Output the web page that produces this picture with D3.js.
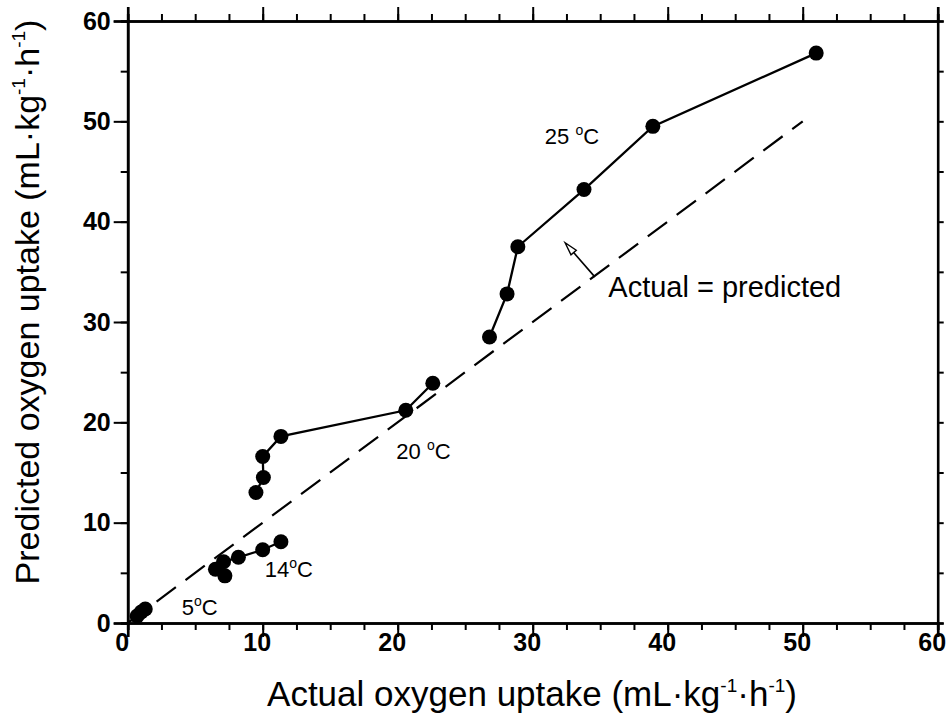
<!DOCTYPE html>
<html>
<head>
<meta charset="utf-8">
<script src="https://cdn.jsdelivr.net/npm/d3@7"></script>
<style>
  body { margin: 0; background: #fff; }
  svg { display: block; font-family: Arial, "Liberation Sans", Helvetica, sans-serif; }
</style>
</head>
<body>
<svg width="948" height="725"></svg>
<script>
// dados (actual, predicted)
const grupo5C  = [[0.7, 0.7], [1.0, 1.1], [1.3, 1.4]];
const grupo14C = [[7.2, 4.7], [6.5, 5.35], [7.1, 6.1], [8.2, 6.55], [10.0, 7.3], [11.35, 8.1]];
const grupo20C = [[9.5, 13.0], [10.05, 14.5], [10.0, 16.6], [11.35, 18.6], [20.6, 21.2], [22.6, 23.9]];
const grupo25C = [[26.8, 28.5], [28.1, 32.8], [28.9, 37.5], [33.8, 43.2], [38.9, 49.5], [51.0, 56.8]];
const grupos = [grupo5C, grupo14C, grupo20C, grupo25C];

const linhaIgual = [[0, 0], [50, 50]];

const ticksMaiores = [0, 10, 20, 30, 40, 50, 60];
const ticksMenoresX = d3.range(0, 60.1, 2.5);
const ticksMenoresY = d3.range(0, 60.1, 5);

// rótulos de temperatura
const rotulos = [
    {x: 30.9, y: 47.7, t: "25", sep: " "},
    {x: 19.9, y: 16.35, t: "20", sep: " "},
    {x: 10.15, y: 4.6, t: "14", sep: ""},
    {x: 4.0, y: 0.8, t: "5", sep: ""}
];
const seta = {x1: 34.6, y1: 34.5, x2: 32.4, y2: 37.9};
const textoSeta = {x: 35.6, y: 32.5, t: "Actual = predicted"};

const svg = d3.select("svg");

const x = d3.scaleLinear().domain([0, 60]).range([127.7, 937.7]);
const y = d3.scaleLinear().domain([0, 60]).range([623, 21]);

// eixos - menores primeiro, depois maiores
const gx = svg.append("g").attr("transform", `translate(0,${y(0)})`);
gx.call(d3.axisBottom(x).tickValues(ticksMenoresX).tickSize(7).tickFormat(""));
gx.append("g").call(d3.axisBottom(x).tickValues(ticksMaiores).tickSize(14).tickPadding(-4).tickFormat(d3.format("d")))
    .selectAll("text").attr("dx", -6);

const gTopo = svg.append("g").attr("transform", `translate(0,${y(60)})`);
gTopo.call(d3.axisTop(x).tickValues(ticksMenoresX).tickSize(7).tickFormat(""));
gTopo.append("g").call(d3.axisTop(x).tickValues(ticksMaiores).tickSize(14).tickFormat(""));

const gy = svg.append("g").attr("transform", `translate(${x(0)},0)`);
gy.call(d3.axisLeft(y).tickValues(ticksMenoresY).tickSize(7).tickFormat(""));
gy.append("g").call(d3.axisLeft(y).tickValues(ticksMaiores).tickSize(14).tickPadding(3).tickFormat(d3.format("d")));

const gDir = svg.append("g").attr("transform", `translate(${x(60)},0)`);
gDir.call(d3.axisRight(y).tickValues(ticksMenoresY).tickSize(6).tickFormat(""));

svg.selectAll(".domain").attr("stroke", "#000").attr("stroke-width", 2.6);
svg.selectAll(".tick line").attr("stroke", "#000").attr("stroke-width", 2);
svg.selectAll(".tick text")
    .attr("fill", "#000")
    .style("font-size", "25px")
    .style("font-weight", "bold")
    .style("font-family", "Arial, 'Liberation Sans', sans-serif");

// linha tracejada actual = predicted
svg.append("path")
    .attr("d", d3.line().x(d => x(d[0])).y(d => y(d[1]))(linhaIgual))
    .attr("fill", "none")
    .attr("stroke", "#000")
    .attr("stroke-width", 2.2)
    .attr("stroke-dasharray", "24,12");

// séries
const linha = d3.line().x(d => x(d[0])).y(d => y(d[1]));
svg.selectAll(".serie")
    .data(grupos)
    .enter()
    .append("path")
    .attr("class", "serie")
    .attr("d", linha)
    .attr("fill", "none")
    .attr("stroke", "#000")
    .attr("stroke-width", 2.3);

svg.selectAll(".ponto")
    .data(grupos.flat())
    .enter()
    .append("circle")
    .attr("class", "ponto")
    .attr("cx", d => x(d[0]))
    .attr("cy", d => y(d[1]))
    .attr("r", 7.5)
    .attr("fill", "#000");

// rótulos de temperatura
rotulos.forEach(r => {
    const t = svg.append("text")
        .attr("x", x(r.x))
        .attr("y", y(r.y))
        .style("font-size", "22px")
        .attr("fill", "#000");
    t.append("tspan").text(r.t + r.sep);
    t.append("tspan").attr("dy", -9).style("font-size", "14px").text("o");
    t.append("tspan").attr("dy", 9).text("C");
});

// seta com ponta aberta
const ax1 = x(seta.x1), ay1 = y(seta.y1), ax2 = x(seta.x2), ay2 = y(seta.y2);
const ang = Math.atan2(ay2 - ay1, ax2 - ax1);
const comp = 13, larg = 3.5;
const bx = ax2 - comp * Math.cos(ang), by = ay2 - comp * Math.sin(ang);
svg.append("line")
    .attr("x1", ax1).attr("y1", ay1).attr("x2", bx).attr("y2", by)
    .attr("stroke", "#000").attr("stroke-width", 1.6);
svg.append("path")
    .attr("d", `M${ax2},${ay2}L${bx + larg * Math.sin(ang)},${by - larg * Math.cos(ang)}L${bx - larg * Math.sin(ang)},${by + larg * Math.cos(ang)}Z`)
    .attr("fill", "#fff").attr("stroke", "#000").attr("stroke-width", 1.4);

svg.append("text")
    .attr("x", x(textoSeta.x))
    .attr("y", y(textoSeta.y))
    .style("font-size", "29px")
    .attr("fill", "#000")
    .text(textoSeta.t);

// títulos dos eixos
function titulo(sel, txt) {
    sel.append("tspan").text(txt + " (mL·kg");
    sel.append("tspan").attr("dy", -14).style("font-size", "19px").text("-1");
    sel.append("tspan").attr("dy", 14).text("·h");
    sel.append("tspan").attr("dy", -14).style("font-size", "19px").text("-1");
    sel.append("tspan").attr("dy", 14).text(")");
}

titulo(svg.append("text")
    .attr("x", 532)
    .attr("y", 706)
    .attr("text-anchor", "middle")
    .style("font-size", "35px")
    .attr("fill", "#000"), "Actual oxygen uptake");

titulo(svg.append("text")
    .attr("transform", "translate(39,302) rotate(-90)")
    .attr("text-anchor", "middle")
    .style("font-size", "34px")
    .attr("fill", "#000"), "Predicted oxygen uptake");
</script>
</body>
</html>
